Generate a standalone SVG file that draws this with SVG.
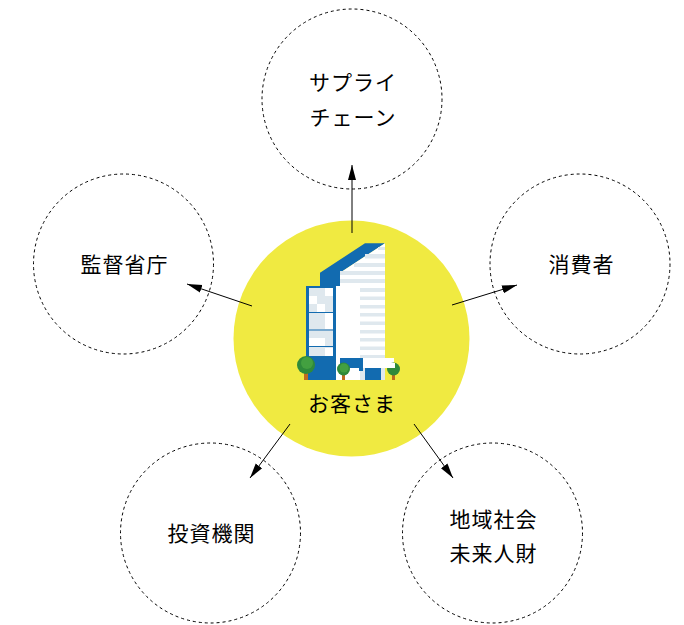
<svg xmlns="http://www.w3.org/2000/svg" width="684" height="625" viewBox="0 0 684 625">
<style>
.ring{fill:#fff;stroke:#000;stroke-width:1;stroke-dasharray:3 3}
.t{font-family:"Noto Sans CJK JP","Noto Sans",sans-serif;font-size:21px;fill:#000;text-anchor:middle;letter-spacing:1px}
.c{stroke:#000;stroke-width:1;fill:none;marker-end:url(#a)}
.s{fill:#dfe8ee}.b{fill:#126bb0}.w{fill:#fff}.g{fill:#2f8a3a}.d{fill:#43a040}.k{fill:#bf6b1f}
</style>
<defs><marker id="a" markerUnits="userSpaceOnUse" markerWidth="16" markerHeight="10" refX="15" refY="5" orient="auto"><path d="M0 1 15 5 0 9z" fill="#000"/></marker></defs>
<g id="node-supply"><circle class="ring" cx="352" cy="99" r="90"/><text class="t" x="353" y="90">サプライ</text><text class="t" x="353" y="125">チェーン</text></g>
<g id="node-gov"><circle class="ring" cx="123.500" cy="264" r="90"/><text class="t" x="124.500" y="272">監督省庁</text></g>
<g id="node-consumer"><circle class="ring" cx="580" cy="264" r="90"/><text class="t" x="581.500" y="272">消費者</text></g>
<g id="node-invest"><circle class="ring" cx="210.500" cy="533" r="90"/><text class="t" x="211.500" y="541">投資機関</text></g>
<g id="node-community"><circle class="ring" cx="492.500" cy="533" r="90"/><text class="t" x="493.500" y="527">地域社会</text><text class="t" x="493.500" y="561">未来人財</text></g>
<g id="node-customer">
<circle cx="351.500" cy="338.500" r="118" fill="#f0ea41"/>
<path class="b" d="M320 272.700 365 243.300H385L340 272.700V286H320z"/>
<path class="w" d="M340 272.700 385 243.300V380H336V286H340z"/>
<g class="s">
<path d="M378 247h7v3h-7zM365 254h20v4.500h-20zM354 263h31v4h-31zM340 271h45v4h-45zM340 279h45v4h-45z"/>
<path d="M360 288h25v4h-25zM360 296.500h25v3.500h-25zM360 305h25v3.500h-25zM360 313h25v3.500h-25zM360 321.500h25v3.500h-25zM360 330h25v3.500h-25zM360 338h25v3.500h-25zM360 346.500h25v3.500h-25zM360 355h25v3h-25z"/>
</g>
<path class="b" d="M306 286h30v94h-30z"/>
<path class="s" d="M309 288h24v68h-24z"/>
<path class="w" d="M325 288h8v8h-8zM309 296h8v8h-8zM317 304h8v8h-8zM325 313h8v16h-8zM309 338h16v8h-16zM325 355h8v1h-8zM325 348h8v8h-8z"/>
<path class="b" d="M309 312h24v1h-24zM309 329.500h24v1h-24zM309 346h24v1h-24z"/>
<path class="s" d="M360 368h25v12h-25z"/>
<path class="b" d="M340 358h23v13h-23zM365 367h16v13h-16z"/>
<path class="w" d="M363 358h31v10h-31zM346 368h13v12h-13z"/>
<rect class="k" x="304" y="372" width="4" height="8"/><circle class="g" cx="306" cy="365" r="9"/><circle class="d" cx="307" cy="363" r="6"/>
<rect class="k" x="342" y="373" width="3" height="7"/><circle class="g" cx="343.500" cy="369" r="6.500"/><circle class="d" cx="344" cy="368" r="4.500"/>
<rect class="k" x="392" y="373" width="3" height="7"/><circle class="g" cx="393.500" cy="369" r="6.500"/><path class="w" d="M387 363h8v5h-8z"/>
<text class="t" x="352" y="411">お客さま</text>
</g>
<g id="connectors">
<path class="c" d="M352 233V165"/>
<path class="c" d="M252 306 187 284"/>
<path class="c" d="M452 305 517 285"/>
<path class="c" d="M290 424 250 478"/>
<path class="c" d="M414 424 453 478"/>
</g>
</svg>
